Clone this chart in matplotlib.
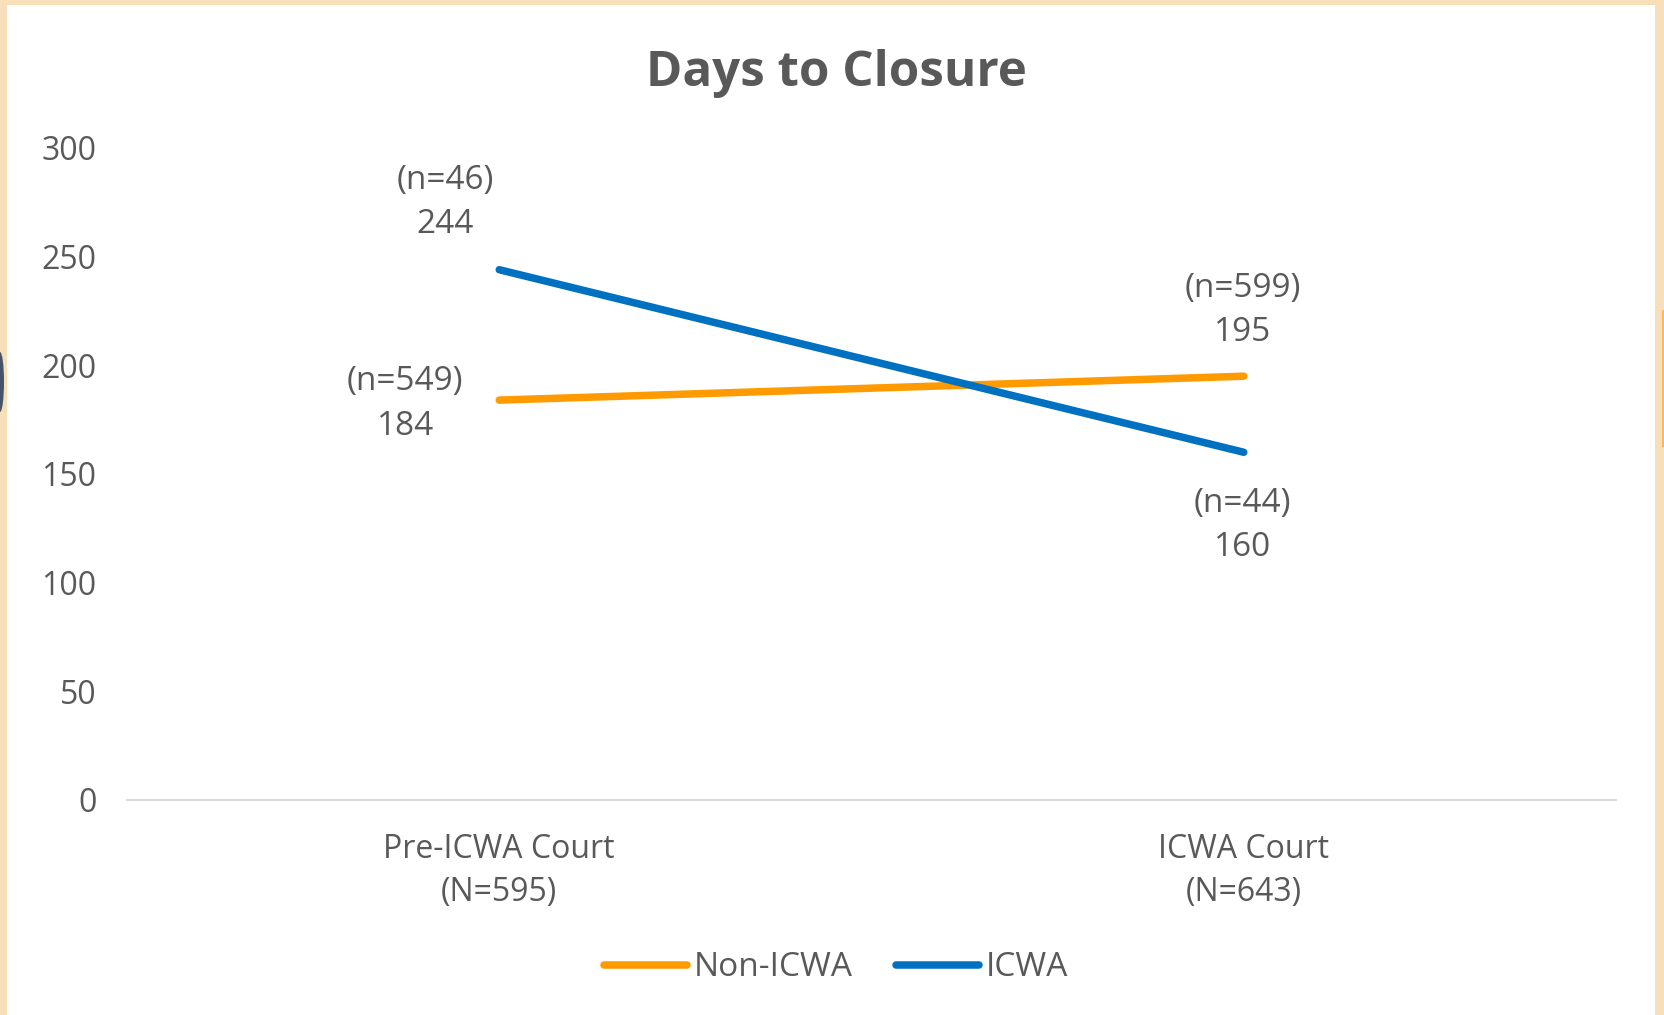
import matplotlib
matplotlib.use('Agg')
import matplotlib.pyplot as plt
from matplotlib.patches import Rectangle, Ellipse

plt.rcParams['font.family'] = ['Open Sans', 'DejaVu Sans']

#Chart data
categories = ['Pre-ICWA Court\n(N=595)', 'ICWA Court\n(N=643)']
non_icwa = [184, 195]
icwa = [244, 160]
non_icwa_n = [549, 599]
icwa_n = [46, 44]
yticks = [0, 50, 100, 150, 200, 250, 300]

orange = '#FF9A00'
blue = '#0070C0'
grey = '#595959'

W, H = 1665, 1015
fig = plt.figure(figsize=(W/100, H/100), dpi=100)
fig.patch.set_facecolor('#F7DFBA')
#white card inside the beige frame
fig.patches.append(Rectangle((7/W, 0), (W-10-7)/W, (H-5)/H, transform=fig.transFigure,
                             facecolor='white', edgecolor='none', zorder=-2))
#bits of neighbouring shapes at the edges
fig.patches.append(Ellipse((0, 1-382/H), 8/W, 60/H, transform=fig.transFigure,
                           facecolor='#44546A', edgecolor='none', zorder=-1))
fig.patches.append(Rectangle((1662/W, 1-447/H), 3/W, 137/H, transform=fig.transFigure,
                             facecolor='#FFB55A', edgecolor='none', zorder=-1))

ax = fig.add_axes([127/W, 1-800/H, 1489/W, 652/H])
ax.set_facecolor('none')
x = [0, 1]
ax.plot(x, non_icwa, color=orange, lw=5.4, solid_capstyle='round', label='Non-ICWA')
ax.plot(x, icwa, color=blue, lw=5.4, solid_capstyle='round', label='ICWA')
ax.set_xlim(-0.5, 1.5)
ax.set_ylim(0, 300)
ax.set_yticks(yticks)
ax.set_xticks(x)
ax.set_xticklabels(categories, fontsize=23, color=grey, linespacing=1.4)
ax.tick_params(axis='y', length=0, pad=22, labelsize=23, labelcolor=grey)
ax.tick_params(axis='x', length=0, pad=24)
for s in ['top', 'right', 'left']:
    ax.spines[s].set_visible(False)
ax.spines['bottom'].set_color('#D9D9D9')
ax.spines['bottom'].set_linewidth(1.5)

#data labels
lab = dict(fontsize=24, color=grey, ha='center', va='center', linespacing=1.45,
           textcoords='offset pixels')
ax.annotate('(n=%d)\n%d' % (icwa_n[0], icwa[0]), (x[0], icwa[0]), xytext=(-54, 67), **lab)
ax.annotate('(n=%d)\n%d' % (non_icwa_n[0], non_icwa[0]), (x[0], non_icwa[0]), xytext=(-94, -4), **lab)
ax.annotate('(n=%d)\n%d' % (non_icwa_n[1], non_icwa[1]), (x[1], non_icwa[1]), xytext=(-1, 66), **lab)
ax.annotate('(n=%d)\n%d' % (icwa_n[1], icwa[1]), (x[1], icwa[1]), xytext=(-1, -73), **lab)

fig.text(836/W, 1-73/H, 'Days to Closure', fontsize=35.5, fontweight='bold', color=grey,
         ha='center', va='center')

fig.legend(loc='center', bbox_to_anchor=(836/W, 1-968/H), ncol=2, frameon=False,
           fontsize=24, labelcolor=grey, handlelength=2.5, handletextpad=0.2,
           columnspacing=1.3)

fig.savefig('out.png', dpi=100)
